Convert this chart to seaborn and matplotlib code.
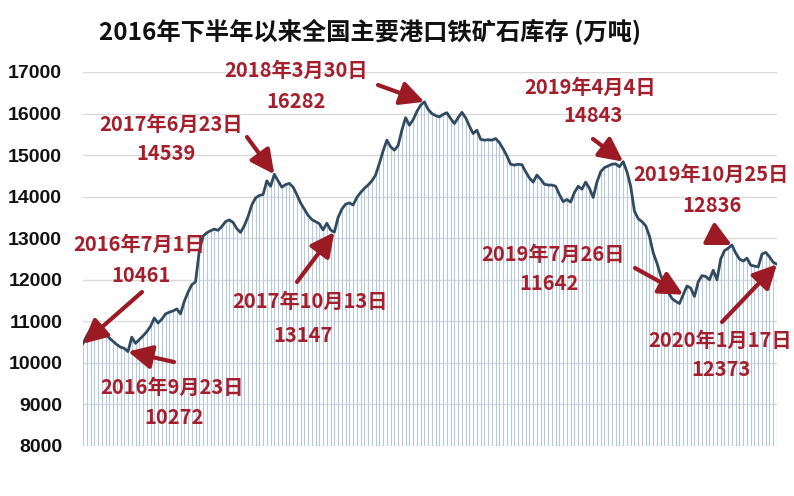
import numpy as np
import pandas as pd
import matplotlib
matplotlib.use("Agg")
import matplotlib.pyplot as plt
import seaborn as sns

# ---- data: weekly port iron-ore inventory (10k t), week 0 = 2016-07-01 ----
stock_2016h2 = [10461, 10650, 10800, 10860, 10880, 10820, 10700, 10600, 10520, 10440,
                10380, 10350, 10272, 10620, 10470, 10560, 10650, 10750, 10880, 11080,
                10960, 11050, 11180, 11220, 11250, 11300, 11180]
stock_2017 = [11480, 11700, 11880, 11950, 12700, 13050, 13130, 13180, 13220, 13190,
              13280, 13400, 13440, 13380, 13230, 13140, 13300, 13520, 13800, 13970,
              14030, 14050, 14380, 14250, 14539, 14380, 14230, 14290, 14320, 14230,
              14050, 13850, 13700, 13550, 13450, 13400, 13350, 13200, 13360, 13200,
              13147, 13500, 13700, 13820, 13850, 13800, 13980, 14100, 14200, 14280,
              14380, 14520]
stock_2018 = [14800, 15100, 15360, 15200, 15120, 15230, 15600, 15900, 15720, 15850,
              16050, 16200, 16282, 16100, 16000, 15950, 15920, 15980, 16020, 15880,
              15760, 15900, 16030, 15900, 15700, 15520, 15600, 15380, 15360, 15370,
              15360, 15400, 15300, 15150, 14980, 14780, 14760, 14780, 14770, 14600,
              14450, 14350, 14520, 14420, 14300, 14280, 14280, 14250, 14050, 13880,
              13930, 13870]
stock_2019 = [14100, 14250, 14180, 14350, 14200, 13980, 14350, 14600, 14700, 14740,
              14780, 14790, 14720, 14843, 14600, 14250, 13650, 13470, 13400, 13300,
              13050, 12650, 12400, 12100, 11900, 11700, 11550, 11480, 11430, 11642,
              11850, 11800, 11600, 11950, 12100, 12080, 12000, 12230, 12000, 12500,
              12700, 12760, 12836, 12640, 12500, 12450, 12520, 12350, 12330, 12310,
              12620, 12660]
stock_2020 = [12550, 12420, 12373]

# annotations: (date label, value label, week index)
ann_dates = ["2016年7月1日", "2016年9月23日", "2017年6月23日", "2017年10月13日",
             "2018年3月30日", "2019年4月4日", "2019年7月26日", "2019年10月25日",
             "2020年1月17日"]
ann_values = ["10461", "10272", "14539", "13147", "16282", "14843", "11642", "12836", "12373"]
ann_weeks = [0, 12, 51, 67, 91, 144, 160, 173, 185]

y_ticks = [8000, 9000, 10000, 11000, 12000, 13000, 14000, 15000, 16000, 17000]
title = "2016年下半年以来全国主要港口铁矿石库存 (万吨)"

# ---- layout (pixel positions) ----
W, H = 794, 496
# (x of date line, y of date line, x of value line, y of value line)
text_pos = [(139, 244, 141, 275), (172, 387, 174, 418), (171, 124, 166, 154),
            (310, 301, 303, 335), (296, 70, 296, 101), (590, 87, 593, 116),
            (553, 254, 549, 284), (711, 174, 712, 205), (720, 340, 721, 370)]
tail_pos = [(142, 292), (174, 362), (247, 137), (297, 282),
            (378, 85), (593, 139), (635, 268), (712, 235), (722, 322)]

sns.set_style("white")
plt.rcParams["font.family"] = ["Noto Sans CJK SC", "DejaVu Sans"]

RED_TXT = "#a51e2c"
RED_ARR = "#9c1a24"
LINE = "#2f4a61"
HATCH = "#b4cadb"

stock = stock_2016h2 + stock_2017 + stock_2018 + stock_2019 + stock_2020
df = pd.DataFrame({"week": np.arange(len(stock)), "stock": stock})

fig = plt.figure(figsize=(W / 100, H / 100), dpi=100)
ax = fig.add_axes([83 / W, 1 - 446 / H, (777 - 83) / W, (446 - 72) / H])

ax.vlines(df["week"], y_ticks[0], df["stock"], color=HATCH, lw=0.8, zorder=1)
sns.lineplot(data=df, x="week", y="stock", ax=ax, color=LINE, lw=2.0, zorder=3)

ax.set_xlim(0, len(stock) - 1)
ax.set_ylim(y_ticks[0], y_ticks[-1])
ax.set_yticks(y_ticks)
ax.set_yticklabels([str(t) for t in y_ticks])
ax.yaxis.grid(True, color="#dadada", lw=1.0, zorder=0)
ax.set_axisbelow(True)
for s in ax.spines.values():
    s.set_visible(False)
ax.set_xticks([])
ax.set_xlabel("")
ax.set_ylabel("")
ax.tick_params(axis="y", length=0, pad=15)
for lab in ax.get_yticklabels():
    lab.set_fontfamily("Liberation Sans")
    lab.set_fontweight("bold")
    lab.set_fontsize(14)
    lab.set_color("#111111")

fig.text(370 / W, 1 - 32 / H, title, ha="center", va="center",
         fontsize=17.5, fontweight="bold", color="#111111")

for d, v, wk, (tx1, ty1, tx2, ty2), (ax0, ay0) in zip(ann_dates, ann_values, ann_weeks,
                                                       text_pos, tail_pos):
    fig.text(tx1 / W, 1 - ty1 / H, d, ha="center", va="center",
             fontsize=14.5, fontweight="bold", color=RED_TXT)
    fig.text(tx2 / W, 1 - ty2 / H, v, ha="center", va="center",
             fontsize=14.5, fontweight="bold", color=RED_TXT)
    ax.annotate("", xy=(wk, stock[wk]), xycoords="data",
                xytext=(ax0, H - ay0), textcoords="figure pixels",
                arrowprops=dict(arrowstyle="-|>,head_length=0.8,head_width=0.4",
                                color=RED_ARR, lw=3, shrinkA=0, shrinkB=0,
                                mutation_scale=18),
                annotation_clip=False, zorder=5)

fig.savefig("out.png", dpi=100)
